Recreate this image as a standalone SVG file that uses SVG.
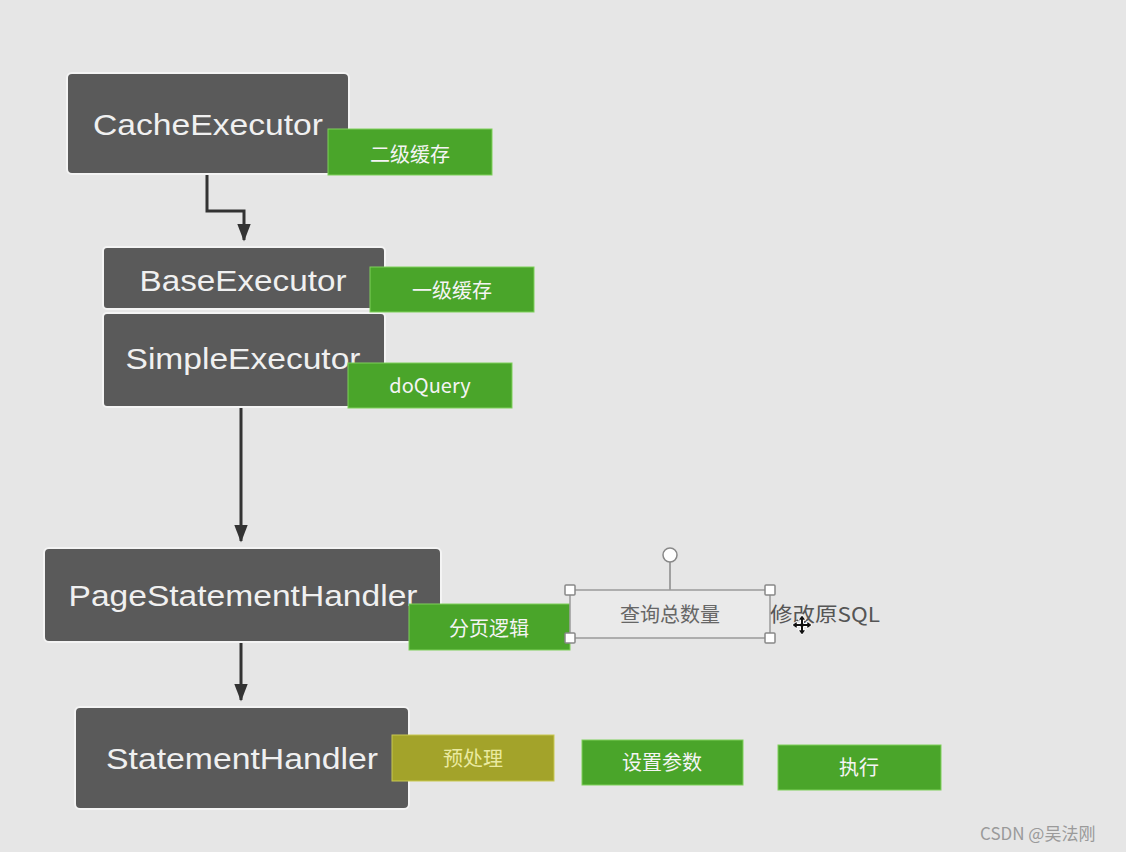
<svg xmlns="http://www.w3.org/2000/svg" width="1126" height="852" viewBox="0 0 1126 852">
<defs>
<style>
.bg{fill:#e6e6e6}
.node{fill:#5a5a5a;stroke:#f4f4f4;stroke-width:2}
.ntxt{fill:#f0f0f0;font-family:"Liberation Sans","Noto Sans",sans-serif;font-size:29px;text-anchor:middle}
.tag{fill:#4aa52a;stroke:#7fd05a;stroke-width:1}
.olive{fill:#a3a32a;stroke:#c8c850;stroke-width:1}
.ttxt{fill:#f4f4f4;font-family:"Noto Sans CJK SC","Liberation Sans",sans-serif;font-size:20px;text-anchor:middle}
.conn{fill:none;stroke:#333;stroke-width:3}
.sel{fill:#eaeaea;stroke:#9a9a9a;stroke-width:1.5}
.handle{fill:#fff;stroke:#888;stroke-width:1.5}
.gtxt{fill:#666;font-family:"Noto Sans CJK SC","Liberation Sans",sans-serif;font-size:20px}
</style>
<marker id="ah" markerWidth="7" markerHeight="5" refX="5.5" refY="2.3" orient="auto" markerUnits="strokeWidth">
<path d="M0,0 L6,2.3 L0,4.6 z" fill="#333"/>
</marker>
</defs>
<rect class="bg" x="0" y="0" width="1126" height="852"/>

<g id="connectors">
<path class="conn" d="M207,175 V211 H244 V240" marker-end="url(#ah)"/>
<path class="conn" d="M241,408 V541" marker-end="url(#ah)"/>
<path class="conn" d="M241,643 V700" marker-end="url(#ah)"/>
</g>

<g id="cache">
<rect class="node" x="67" y="73" width="282" height="101" rx="5"/>
<text class="ntxt" x="208" y="135" textLength="230" lengthAdjust="spacingAndGlyphs">CacheExecutor</text>
</g>
<g id="tag-l2">
<rect class="tag" x="328" y="129" width="164" height="46"/>
<text class="ttxt" x="410" y="162">二级缓存</text>
</g>

<g id="base">
<rect class="node" x="103" y="247" width="282" height="62" rx="4"/>
<text class="ntxt" x="243" y="291" textLength="207" lengthAdjust="spacingAndGlyphs">BaseExecutor</text>
</g>
<g id="simple">
<rect class="node" x="103" y="313" width="282" height="94" rx="4"/>
<text class="ntxt" x="243" y="369" textLength="235" lengthAdjust="spacingAndGlyphs">SimpleExecutor</text>
</g>
<g id="tag-l1">
<rect class="tag" x="370" y="267" width="164" height="45"/>
<text class="ttxt" x="452" y="298">一级缓存</text>
</g>
<g id="tag-doquery">
<rect class="tag" x="348" y="363" width="164" height="45"/>
<text class="ttxt" x="430" y="393">doQuery</text>
</g>

<g id="page">
<rect class="node" x="44" y="548" width="397" height="94" rx="5"/>
<text class="ntxt" x="243" y="606" textLength="349" lengthAdjust="spacingAndGlyphs">PageStatementHandler</text>
</g>
<g id="tag-page">
<rect class="tag" x="409" y="604" width="161" height="46"/>
<text class="ttxt" x="489" y="636">分页逻辑</text>
</g>

<g id="count">
<line x1="670" y1="562" x2="670" y2="590" stroke="#888" stroke-width="1.5"/>
<rect class="sel" x="570" y="590" width="200" height="48"/>
<text class="gtxt" x="670" y="622" text-anchor="middle">查询总数量</text>
<circle class="handle" cx="670" cy="555" r="7"/>
<rect class="handle" x="565" y="585" width="10" height="10" rx="1"/>
<rect class="handle" x="765" y="585" width="10" height="10" rx="1"/>
<rect class="handle" x="565" y="633" width="10" height="10" rx="1"/>
<rect class="handle" x="765" y="633" width="10" height="10" rx="1"/>
</g>
<g id="modify">
<text class="gtxt" x="770" y="622" style="fill:#555" textLength="110" lengthAdjust="spacingAndGlyphs">修改原SQL</text>
<g transform="translate(802,625)">
<path d="M0,-10 L4,-5 H1.5 V-1.5 H5 V-4 L10,0 L5,4 V1.5 H1.5 V5 H4 L0,10 L-4,5 H-1.5 V1.5 H-5 V4 L-10,0 L-5,-4 V-1.5 H-1.5 V-5 H-4 Z" fill="#111" stroke="#fff" stroke-width="1"/>
</g>
</g>

<g id="stmt">
<rect class="node" x="75" y="707" width="334" height="102" rx="5"/>
<text class="ntxt" x="242" y="769" textLength="272" lengthAdjust="spacingAndGlyphs">StatementHandler</text>
</g>
<g id="tag-prep">
<rect class="olive" x="392" y="735" width="162" height="46"/>
<text class="ttxt" x="473" y="766" style="fill:#eaeaa0">预处理</text>
</g>
<g id="tag-param">
<rect class="tag" x="582" y="740" width="161" height="45"/>
<text class="ttxt" x="662" y="770">设置参数</text>
</g>
<g id="tag-exec">
<rect class="tag" x="778" y="745" width="163" height="45"/>
<text class="ttxt" x="859" y="775">执行</text>
</g>

<text x="980" y="840" style="fill:#9a9a9a;font-family:'Noto Sans CJK SC','Liberation Sans',sans-serif;font-size:17px">CSDN @吴法刚</text>
</svg>
